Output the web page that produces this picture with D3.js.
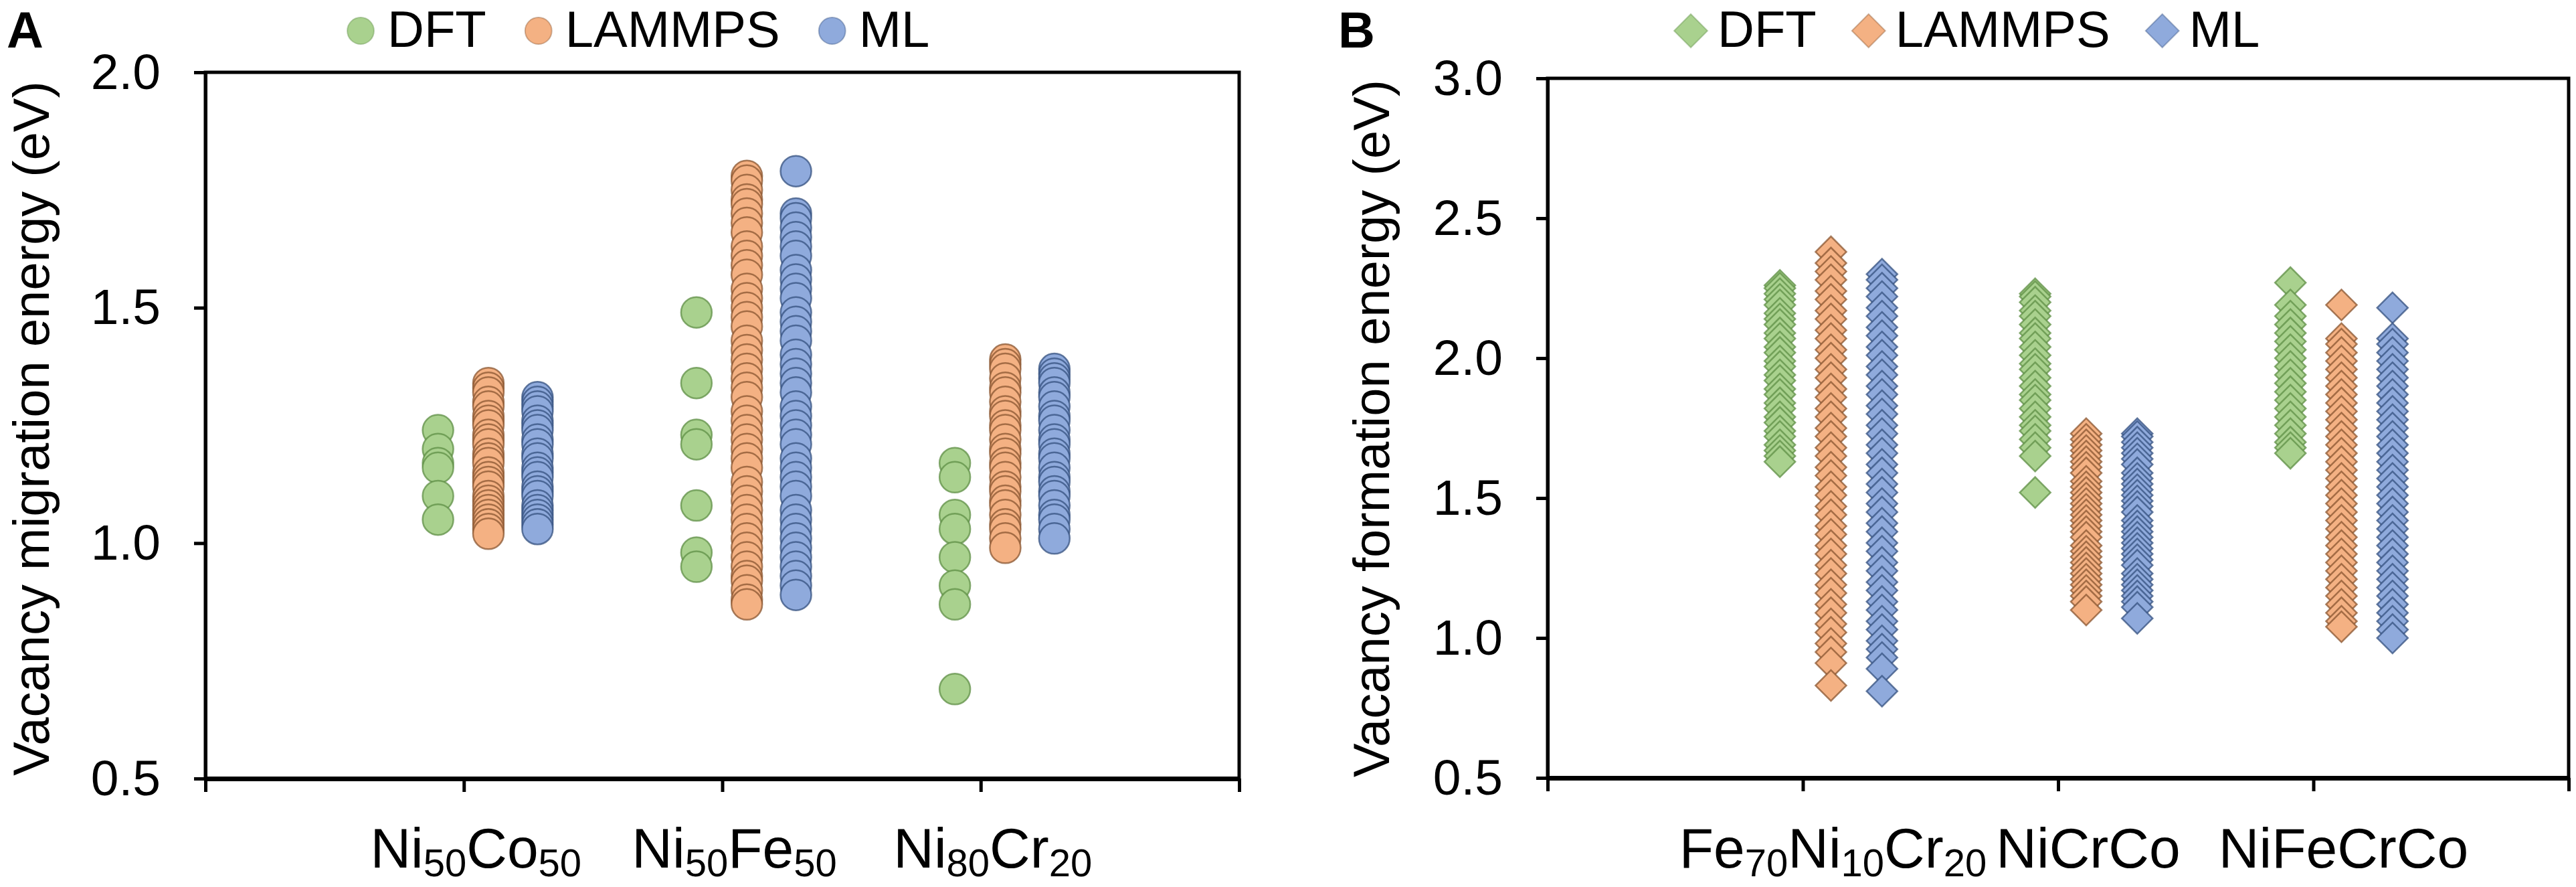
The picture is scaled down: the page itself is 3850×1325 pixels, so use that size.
<!DOCTYPE html>
<html>
<head>
<meta charset="utf-8">
<script src="https://cdn.jsdelivr.net/npm/d3@7"></script>
<style>
  body { margin: 0; background: #fff; }
  text { font-family: "Liberation Sans", Arial, Helvetica, sans-serif; fill: #000; }
</style>
</head>
<body>
<svg width="3850" height="1325"></svg>
<script>
var series = ["DFT", "LAMMPS", "ML"];

// panel A - vacancy migration energy (eV)
var categoriesA = ["Ni50Co50", "Ni50Fe50", "Ni80Cr20"];
var yTicksA = [0.5, 1.0, 1.5, 2.0];
var migDFT = [
  [1.24, 1.20, 1.17, 1.16, 1.10, 1.05],
  [1.49, 1.34, 1.23, 1.21, 1.08, 0.98, 0.95],
  [1.17, 1.14, 1.06, 1.03, 0.97, 0.91, 0.87, 0.69]
];
var migLAMMPS = [
  [1.34, 1.33, 1.32, 1.30, 1.29, 1.27, 1.26, 1.25, 1.23, 1.22, 1.21, 1.19, 1.18, 1.17, 1.15, 1.14, 1.13, 1.12, 1.10, 1.09, 1.08, 1.07, 1.06, 1.05, 1.04, 1.03, 1.02],
  [1.78, 1.77, 1.75, 1.73, 1.72, 1.70, 1.68, 1.66, 1.63, 1.61, 1.59, 1.57, 1.54, 1.52, 1.50, 1.48, 1.46, 1.43, 1.41, 1.39, 1.37, 1.35, 1.33, 1.31, 1.28, 1.26, 1.24, 1.22, 1.20, 1.18, 1.16, 1.13, 1.11, 1.09, 1.07, 1.05, 1.03, 1.01, 0.99, 0.97, 0.95, 0.93, 0.92, 0.90, 0.88, 0.87],
  [1.39, 1.38, 1.37, 1.35, 1.33, 1.32, 1.30, 1.28, 1.27, 1.25, 1.24, 1.22, 1.20, 1.19, 1.17, 1.16, 1.14, 1.12, 1.11, 1.09, 1.08, 1.06, 1.04, 1.03, 1.01, 0.99]
];
var migML = [
  [1.31, 1.30, 1.29, 1.28, 1.26, 1.25, 1.24, 1.22, 1.21, 1.19, 1.18, 1.16, 1.15, 1.14, 1.12, 1.11, 1.10, 1.08, 1.07, 1.06, 1.05, 1.04, 1.03],
  [1.79, 1.70, 1.69, 1.67, 1.65, 1.63, 1.61, 1.58, 1.56, 1.54, 1.52, 1.49, 1.47, 1.45, 1.43, 1.40, 1.38, 1.36, 1.34, 1.32, 1.29, 1.27, 1.25, 1.23, 1.21, 1.18, 1.16, 1.14, 1.12, 1.10, 1.07, 1.05, 1.03, 1.01, 0.99, 0.97, 0.95, 0.93, 0.91, 0.89],
  [1.37, 1.36, 1.35, 1.34, 1.32, 1.31, 1.29, 1.27, 1.26, 1.24, 1.22, 1.21, 1.19, 1.18, 1.16, 1.14, 1.13, 1.11, 1.10, 1.08, 1.06, 1.05, 1.03, 1.01]
];

// panel B - vacancy formation energy (eV)
var categoriesB = ["Fe70Ni10Cr20", "NiCrCo", "NiFeCrCo"];
var yTicksB = [0.5, 1.0, 1.5, 2.0, 2.5, 3.0];
var formDFT = [
  [2.26, 2.25, 2.23, 2.21, 2.19, 2.16, 2.14, 2.12, 2.09, 2.07, 2.04, 2.02, 1.99, 1.97, 1.94, 1.92, 1.89, 1.87, 1.84, 1.82, 1.79, 1.77, 1.74, 1.72, 1.69, 1.67, 1.65, 1.63],
  [2.23, 2.22, 2.20, 2.17, 2.15, 2.12, 2.09, 2.07, 2.04, 2.01, 1.98, 1.96, 1.93, 1.90, 1.87, 1.85, 1.82, 1.79, 1.76, 1.74, 1.71, 1.68, 1.65, 1.52],
  [2.27, 2.19, 2.15, 2.12, 2.09, 2.06, 2.03, 2.00, 1.97, 1.94, 1.91, 1.88, 1.85, 1.82, 1.79, 1.76, 1.73, 1.70, 1.68, 1.66]
];
var formLAMMPS = [
  [2.38, 2.34, 2.31, 2.28, 2.24, 2.21, 2.17, 2.14, 2.10, 2.07, 2.03, 2.00, 1.96, 1.93, 1.89, 1.86, 1.82, 1.79, 1.75, 1.72, 1.68, 1.65, 1.61, 1.58, 1.54, 1.51, 1.47, 1.44, 1.40, 1.37, 1.33, 1.30, 1.26, 1.23, 1.19, 1.16, 1.12, 1.09, 1.05, 1.02, 0.98, 0.95, 0.91, 0.83],
  [1.73, 1.71, 1.69, 1.67, 1.65, 1.63, 1.61, 1.59, 1.56, 1.54, 1.52, 1.50, 1.48, 1.46, 1.44, 1.42, 1.40, 1.38, 1.36, 1.33, 1.31, 1.29, 1.27, 1.25, 1.23, 1.21, 1.19, 1.17, 1.15, 1.13, 1.10],
  [2.19, 2.07, 2.05, 2.02, 1.99, 1.96, 1.93, 1.90, 1.87, 1.84, 1.81, 1.78, 1.75, 1.72, 1.69, 1.66, 1.63, 1.60, 1.57, 1.54, 1.51, 1.48, 1.45, 1.42, 1.39, 1.36, 1.33, 1.30, 1.27, 1.24, 1.21, 1.18, 1.15, 1.12, 1.09, 1.06, 1.04]
];
var formML = [
  [2.30, 2.28, 2.25, 2.22, 2.18, 2.15, 2.11, 2.08, 2.04, 2.01, 1.97, 1.94, 1.90, 1.87, 1.83, 1.80, 1.76, 1.73, 1.69, 1.66, 1.62, 1.59, 1.55, 1.52, 1.48, 1.45, 1.41, 1.38, 1.34, 1.31, 1.27, 1.24, 1.20, 1.17, 1.13, 1.10, 1.06, 1.03, 0.99, 0.96, 0.93, 0.89, 0.81],
  [1.73, 1.72, 1.70, 1.68, 1.66, 1.64, 1.62, 1.59, 1.57, 1.55, 1.53, 1.51, 1.49, 1.47, 1.45, 1.42, 1.40, 1.38, 1.36, 1.34, 1.32, 1.30, 1.28, 1.26, 1.23, 1.21, 1.19, 1.17, 1.15, 1.13, 1.11, 1.07],
  [2.18, 2.07, 2.05, 2.02, 1.99, 1.96, 1.93, 1.90, 1.87, 1.84, 1.81, 1.78, 1.75, 1.72, 1.69, 1.66, 1.63, 1.60, 1.57, 1.54, 1.51, 1.48, 1.45, 1.42, 1.39, 1.36, 1.33, 1.30, 1.27, 1.24, 1.21, 1.18, 1.15, 1.12, 1.09, 1.06, 1.03, 1.00]
];

var fills = ["#a9d18e", "#f4b183", "#8faadc"];
var strokes = ["#5f8f45", "#8a5530", "#34507f"];

var svg = d3.select("svg");

// write "Ni50Co50" with the digits as subscripts
function formula(textSel, label, big, small) {
  var parts = label.match(/[A-Za-z]+|\d+/g);
  var down = false;
  parts.forEach(function(p) {
    var ts = textSel.append("tspan").text(p);
    if (/\d/.test(p)) {
      ts.attr("font-size", small).attr("dy", down ? 0 : 13);
      down = true;
    } else {
      ts.attr("font-size", big).attr("dy", down ? -13 : 0);
      down = false;
    }
  });
}

function drawPanel(p) {
  var x = d3.scaleLinear().domain([0, 4]).range([p.left, p.right]);
  var y = d3.scaleLinear().domain([0.5, p.yMax]).range([p.bottom, p.top]);
  var g = svg.append("g");

  var sym = p.diamond
    ? d3.symbol().type(d3.symbolSquare).size(1060)
    : d3.symbol().type(d3.symbolCircle).size(1660);

  // markers, one series after the other like the spreadsheet does
  p.data.forEach(function(cats, si) {
    cats.forEach(function(vals, ci) {
      g.selectAll(null)
        .data(vals)
        .enter()
        .append("path")
        .attr("d", sym())
        .attr("transform", function(d) {
          return "translate(" + x(ci + 1 + p.offsets[si]) + "," + y(d) + ")" + (p.diamond ? " rotate(45)" : "");
        })
        .attr("fill", fills[si])
        .attr("stroke", strokes[si])
        .attr("stroke-opacity", 0.75)
        .attr("stroke-width", 2.5);
    });
  });

  // plot frame
  g.append("rect")
    .attr("x", p.left)
    .attr("y", p.top)
    .attr("width", p.right - p.left)
    .attr("height", p.bottom - p.top)
    .attr("fill", "none")
    .attr("stroke", "#000")
    .attr("stroke-width", 5);

  var ya = g.append("g")
    .attr("transform", "translate(" + p.left + ",0)")
    .call(d3.axisLeft(y).tickValues(p.ticks).tickSize(17).tickSizeOuter(0).tickPadding(50).tickFormat(d3.format(".1f")));
  ya.selectAll("path, line").attr("stroke", "#000").attr("stroke-width", 5);
  ya.selectAll("text").attr("font-size", 75).attr("font-family", "Liberation Sans, Arial, sans-serif").attr("fill", "#000");

  var xa = g.append("g")
    .attr("transform", "translate(0," + p.bottom + ")")
    .call(d3.axisBottom(x).tickValues([0, 1, 2, 3, 4]).tickSize(20).tickSizeOuter(0).tickFormat(""));
  xa.select(".domain").attr("stroke", "#000").attr("stroke-width", 7);
  xa.selectAll("line").attr("stroke", "#000").attr("stroke-width", 5);

  // category labels
  p.categories.forEach(function(c, i) {
    var t = g.append("text")
      .attr("x", x(i + 1) + p.labelShift)
      .attr("y", 1296)
      .attr("text-anchor", "middle");
    formula(t, c, 84, 58);
  });

  // y title
  g.append("text")
    .attr("transform", "translate(" + p.titleX + "," + p.titleY + ") rotate(-90)")
    .attr("text-anchor", "middle")
    .attr("font-size", 76)
    .text(p.title);

  // panel letter
  g.append("text")
    .attr("x", p.letterX)
    .attr("y", 71)
    .attr("font-size", 76)
    .attr("font-weight", "bold")
    .text(p.letter);

  // legend across the top
  var lx = p.legendX;
  series.forEach(function(s, si) {
    g.append("path")
      .attr("d", p.diamond ? d3.symbol().type(d3.symbolSquare).size(1250)() : d3.symbol().type(d3.symbolCircle).size(1250)())
      .attr("transform", "translate(" + lx + ",46)" + (p.diamond ? " rotate(45)" : ""))
      .attr("fill", fills[si])
      .attr("stroke", strokes[si])
      .attr("stroke-opacity", 0.4)
      .attr("stroke-width", 2);
    var t = g.append("text")
      .attr("x", lx + 40)
      .attr("y", 70)
      .attr("font-size", 76)
      .text(s);
    lx = lx + 40 + t.node().getComputedTextLength() + 78;
  });
}

drawPanel({
  left: 307, right: 1852, top: 108, bottom: 1163, yMax: 2.0,
  ticks: yTicksA, categories: categoriesA,
  data: [migDFT, migLAMMPS, migML],
  offsets: [-0.1, 0.095, 0.285],
  diamond: false, labelShift: 18,
  title: "Vacancy migration energy (eV)", titleX: 73, titleY: 640,
  letter: "A", letterX: 10, legendX: 539
});

drawPanel({
  left: 2313, right: 3839, top: 117, bottom: 1162, yMax: 3.0,
  ticks: yTicksB, categories: categoriesB,
  data: [formDFT, formLAMMPS, formML],
  offsets: [-0.09, 0.11, 0.31],
  diamond: true, labelShift: 45,
  title: "Vacancy formation energy (eV)", titleX: 2076, titleY: 640,
  letter: "B", letterX: 2000, legendX: 2527
});
</script>
</body>
</html>
